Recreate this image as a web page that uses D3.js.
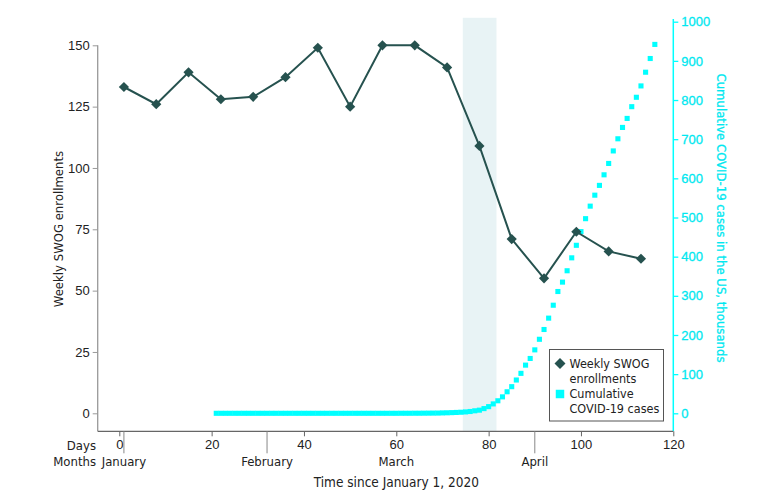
<!DOCTYPE html>
<html><head><meta charset="utf-8">
<script src="https://cdn.jsdelivr.net/npm/d3@7"></script>
<style>
html,body{margin:0;padding:0;background:#fff;}
svg{display:block;font-family:"DejaVu Sans Condensed","DejaVu Sans",sans-serif;}
</style></head>
<body>
<svg id="chart" width="780" height="499"></svg>
<script>
// ---- data ----
const swogDays = [1,8,15,22,29,36,43,50,57,64,71,78,85,92,99,106,113];
const swogValues = [133,126,139,128,129,137,149,125,150,150,141,109,71,55,74,66,63];

const caseDays = [21,22,23,24,25,26,27,28,29,30,31,32,33,34,35,36,37,38,39,40,
  41,42,43,44,45,46,47,48,49,50,51,52,53,54,55,56,57,58,59,60,
  61,62,63,64,65,66,67,68,69,70,71,72,73,74,75,76,77,78,79,80,
  81,82,83,84,85,86,87,88,89,90,91,92,93,94,95,96,97,98,99,100,
  101,102,103,104,105,106,107,108,109,110,111,112,113,114,115,116];
const caseValues = [0,0,0,0,0,0,0,0,0,0,0,0,0,0,0,0,0,0,0,0,
  0,0,0,0,0,0,0,0,0,0,0,0,0,0,0,0,0,0,0,0,
  0.1,0.1,0.1,0.2,0.2,0.3,0.4,0.5,0.6,1.0,1.3,1.7,2.2,2.7,3.5,4.6,6.4,8,12,17,
  24,32,42,55,68,85,102,123,140,162,189,214,243,276,311,335,364,397,429,464,
  497,529,557,582,609,638,670,701,730,753,783,807,836,871,906,942];

const dayTicks = [0,20,40,60,80,100,120];
const monthLabels = ["January","February","March","April"];
const monthLabelDays = [1,32,60,90];
const monthTickDays = [1,32,90];
const leftTicks = [0,25,50,75,100,125,150];
const rightTicks = [0,100,200,300,400,500,600,700,800,900,1000];
const shadeRange = [74.4,81.7];

// ---- styles ----
const dark = "#26524f", cyan = "#00ffff", cyanText = "#00e8f0", txt = "#222";
const fs = "13px";

const svg = d3.select("#chart");
const x = d3.scaleLinear().domain([0,120]).range([119.3,673.3]);
const yL = d3.scaleLinear().domain([0,150]).range([413.3,45.3]);
const yR = d3.scaleLinear().domain([0,1000]).range([413.3,21.7]);
const bottomY = 431.3, leftX = 97.7, rightX = 673.3;

// shaded band
svg.append("rect")
  .attr("x", x(shadeRange[0])).attr("width", x(shadeRange[1]) - x(shadeRange[0]))
  .attr("y", yR(1010)).attr("height", bottomY - yR(1010) - 0.5)
  .attr("fill", "#e8f3f5");

// left axis
const gL = svg.append("g").attr("transform", `translate(${leftX},0)`)
  .call(d3.axisLeft(yL).tickValues(leftTicks).tickSize(5).tickPadding(3));
gL.select(".domain").remove();
gL.selectAll(".tick line").attr("stroke", "#999");
gL.selectAll(".tick text").attr("fill", txt).style("font-size", fs);
svg.append("line").attr("x1", leftX).attr("x2", leftX).attr("y1", yL(150)).attr("y2", bottomY)
  .attr("stroke", "#999").attr("stroke-width", 1.3);

// right axis
const gR = svg.append("g").attr("transform", `translate(${rightX},0)`)
  .call(d3.axisRight(yR).tickValues(rightTicks).tickFormat(d3.format("d")).tickSize(5).tickPadding(3));
gR.select(".domain").remove();
gR.selectAll(".tick line").attr("stroke", cyan).attr("stroke-width", 1.3);
gR.selectAll(".tick text").attr("fill", cyanText).style("font-size", fs)
  .attr("stroke", cyanText).attr("stroke-width", 0.3);
svg.append("line").attr("x1", rightX).attr("x2", rightX).attr("y1", yR(1007)).attr("y2", bottomY)
  .attr("stroke", cyan).attr("stroke-width", 1.5);

// bottom axis
const gB = svg.append("g").attr("transform", `translate(0,${bottomY})`)
  .call(d3.axisBottom(x).tickValues(dayTicks).tickSize(5).tickPadding(3));
gB.select(".domain").remove();
gB.selectAll(".tick line").attr("stroke", "#666");
gB.selectAll(".tick text").attr("fill", txt).style("font-size", fs);
svg.append("line").attr("x1", leftX).attr("x2", rightX).attr("y1", bottomY).attr("y2", bottomY)
  .attr("stroke", "#666").attr("stroke-width", 1.2);

// month ticks and labels
svg.selectAll(".mtick").data(monthTickDays).enter().append("line")
  .attr("x1", d => x(d)).attr("x2", d => x(d)).attr("y1", bottomY).attr("y2", bottomY + 22)
  .attr("stroke", "#888").attr("stroke-width", 1);
svg.selectAll(".mlab").data(monthLabels).enter().append("text")
  .attr("x", (d, i) => x(monthLabelDays[i])).attr("y", 466)
  .attr("text-anchor", "middle").attr("fill", txt).style("font-size", fs).text(d => d);
svg.append("text").attr("x", 96).attr("y", 450).attr("text-anchor", "end")
  .attr("fill", txt).style("font-size", fs).text("Days");
svg.append("text").attr("x", 96).attr("y", 466).attr("text-anchor", "end")
  .attr("fill", txt).style("font-size", fs).text("Months");
svg.append("text").attr("x", x(60)).attr("y", 487).attr("text-anchor", "middle")
  .attr("fill", txt).style("font-size", "13.5px").text("Time since January 1, 2020");

// axis titles
svg.append("text").attr("transform", "translate(63,229) rotate(-90)")
  .attr("text-anchor", "middle").attr("fill", txt).style("font-size", fs)
  .text("Weekly SWOG enrollments");
svg.append("text").attr("transform", "translate(717,218) rotate(90)")
  .attr("text-anchor", "middle").attr("fill", cyanText).style("font-size", fs)
  .attr("stroke", cyanText).attr("stroke-width", 0.3)
  .text("Cumulative COVID-19 cases in the US, thousands");

// cumulative cases squares
const sq = d3.symbol().type(d3.symbolSquare).size(26);
svg.append("g").selectAll("path").data(caseDays).enter().append("path")
  .attr("d", sq).attr("fill", cyan)
  .attr("transform", (d, i) => `translate(${x(d)},${yR(caseValues[i])})`);

// SWOG line + diamonds
const line = d3.line().x(d => x(d[0])).y(d => yL(d[1]));
svg.append("path").datum(swogDays.map((d, i) => [d, swogValues[i]]))
  .attr("d", line).attr("fill", "none").attr("stroke", dark).attr("stroke-width", 2);
const dia = d3.symbol().type(d3.symbolSquare).size(52);
svg.append("g").selectAll("path").data(swogDays).enter().append("path")
  .attr("d", dia).attr("fill", dark)
  .attr("transform", (d, i) => `translate(${x(d)},${yL(swogValues[i])}) rotate(45)`);

// legend
const lg = svg.append("g");
lg.append("rect").attr("x", 549.5).attr("y", 349.5).attr("width", 114).attr("height", 71.5)
  .attr("fill", "#fff").attr("stroke", "#555").attr("stroke-width", 1);
lg.append("path").attr("d", d3.symbol().type(d3.symbolSquare).size(60))
  .attr("fill", dark).attr("transform", "translate(560,363.5) rotate(45)");
lg.append("path").attr("d", d3.symbol().type(d3.symbolSquare).size(72))
  .attr("fill", cyan).attr("transform", "translate(560,394)");
const legendLines = [["Weekly SWOG",368],["enrollments",382.5],["Cumulative",398],["COVID-19 cases",412.5]];
lg.selectAll("text").data(legendLines).enter().append("text")
  .attr("x", 569.5).attr("y", d => d[1]).attr("fill", txt).style("font-size", "12.5px").text(d => d[0]);
</script>
</body></html>
